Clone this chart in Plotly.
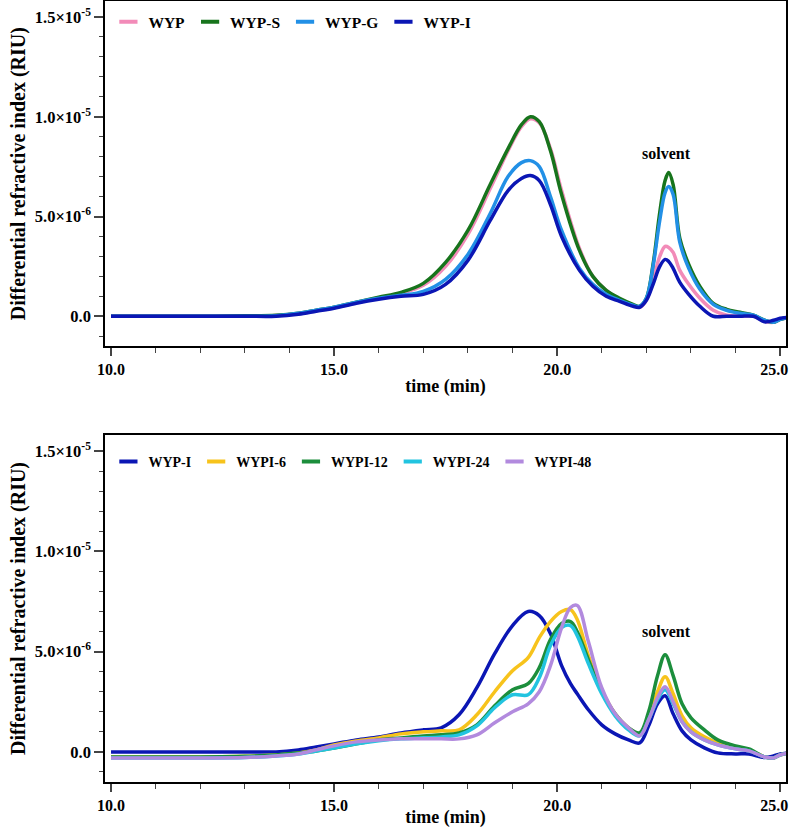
import plotly.graph_objects as go

# ---- top panel: WYP samples (values in 1e-6 RIU) ----
t_top = [10.0, 11.0, 12.0, 13.0, 13.7, 14.2, 14.6, 15.0, 15.5, 16.0, 16.5, 17.0, 17.5, 18.0,
         18.5, 18.9, 19.2, 19.4, 19.6, 19.85, 20.1, 20.5, 20.8, 21.1, 21.4, 21.7, 21.85, 22.0,
         22.15, 22.3, 22.42, 22.5, 22.6, 22.75, 22.95, 23.2, 23.5, 23.8, 24.1, 24.4, 24.65,
         24.85, 25.0, 25.2]
wyp = [0, 0, 0, 0.02, 0.04, 0.13, 0.28, 0.43, 0.68, 0.92, 1.15, 1.55, 2.5, 4.1,
       6.4, 8.3, 9.5, 9.9, 9.7, 8.4, 6.3, 3.4, 2.0, 1.3, 0.85, 0.55, 0.45, 0.8,
       1.8, 3.0, 3.5, 3.45, 3.2, 2.3, 1.6, 0.9, 0.3, 0.05, 0.0, 0.0, -0.25,
       -0.3, -0.15, -0.05]
wyp_s = [0, 0, 0, 0.02, 0.05, 0.15, 0.3, 0.45, 0.7, 0.95, 1.2, 1.65, 2.7, 4.3,
         6.6, 8.4, 9.6, 10.0, 9.75, 8.3, 6.1, 3.3, 2.0, 1.3, 0.9, 0.6, 0.5, 0.9,
         2.6, 5.2, 6.8, 7.2, 6.6, 3.9, 2.6, 1.5, 0.65, 0.35, 0.2, 0.05, -0.2,
         -0.3, -0.15, -0.05]
wyp_g = [0, 0, 0, 0.0, 0.03, 0.15, 0.3, 0.45, 0.7, 0.9, 1.05, 1.25, 1.85, 3.1,
         5.15, 7.0, 7.7, 7.8, 7.5, 6.0, 4.3, 2.4, 1.6, 1.1, 0.8, 0.55, 0.5, 0.9,
         2.5, 4.8, 6.2, 6.5, 6.1, 3.7, 2.4, 1.35, 0.6, 0.3, 0.15, 0.05, -0.2,
         -0.3, -0.15, -0.05]
wyp_i = [0, 0, 0, 0, 0.0, 0.1, 0.25, 0.4, 0.65, 0.85, 1.0, 1.1, 1.6, 2.8,
         4.8, 6.3, 6.9, 7.05, 6.8, 5.6, 4.0, 2.3, 1.5, 1.0, 0.75, 0.5, 0.45, 0.8,
         1.6, 2.5, 2.85, 2.75, 2.4, 1.7, 1.1, 0.5, 0.0, 0.0, 0.0, 0.0, -0.28,
         -0.2, -0.1, -0.05]

# ---- bottom panel: WYP-I hydrolysis series (values in 1e-6 RIU) ----
t_bot = [10.0, 11.0, 12.0, 13.0, 13.7, 14.2, 14.6, 15.0, 15.5, 16.0, 16.5, 17.0, 17.4, 17.8,
         18.2, 18.6, 19.0, 19.35, 19.6, 19.85, 20.1, 20.3, 20.45, 20.7, 21.0, 21.3, 21.6,
         21.85, 22.05, 22.25, 22.42, 22.6, 22.8, 23.0, 23.3, 23.6, 24.0, 24.3, 24.65, 24.85,
         25.0, 25.2]
wypi_0 = [0, 0, 0, 0, 0.0, 0.1, 0.25, 0.4, 0.6, 0.75, 0.95, 1.1, 1.2, 1.85,
          3.2, 4.9, 6.3, 7.0, 6.8, 5.9, 4.3, 3.4, 2.9, 2.1, 1.35, 0.9, 0.6,
          0.45, 1.3, 2.4, 2.8, 1.9, 1.05, 0.6, 0.2, -0.05, -0.1, -0.1, -0.28, -0.2,
          -0.1, -0.05]
wypi_6 = [-0.25, -0.25, -0.25, -0.22, -0.15, -0.05, 0.1, 0.35, 0.55, 0.7, 0.9, 1.0, 1.05, 1.1,
          1.85, 3.0, 4.05, 4.7, 5.7, 6.5, 7.0, 7.1, 6.6, 4.8, 3.1, 1.9, 1.2,
          0.9, 1.8, 3.0, 3.75, 2.9, 1.8, 1.2, 0.75, 0.45, 0.25, 0.1, -0.25, -0.3,
          -0.15, -0.05]
wypi_12 = [-0.25, -0.25, -0.25, -0.22, -0.15, -0.05, 0.05, 0.2, 0.4, 0.6, 0.7, 0.8, 0.85, 0.95,
           1.35, 2.3, 3.1, 3.4, 4.2, 5.6, 6.4, 6.5, 6.0, 4.6, 3.0, 1.9, 1.2,
           0.95, 2.0, 3.8, 4.85, 3.8, 2.4, 1.7, 1.1, 0.6, 0.3, 0.15, -0.25, -0.3,
           -0.15, -0.05]
wypi_24 = [-0.3, -0.3, -0.3, -0.28, -0.2, -0.1, 0.05, 0.2, 0.4, 0.55, 0.65, 0.7, 0.75, 0.85,
           1.3, 2.2, 2.85, 2.85, 3.7, 5.3, 6.2, 6.3, 5.8, 4.4, 2.9, 1.8, 1.1,
           0.8, 1.6, 2.6, 3.1, 2.4, 1.5, 1.0, 0.6, 0.35, 0.15, 0.05, -0.25, -0.3,
           -0.15, -0.05]
wypi_48 = [-0.3, -0.3, -0.3, -0.28, -0.2, -0.1, 0.1, 0.3, 0.5, 0.6, 0.65, 0.65, 0.65, 0.65,
           0.85, 1.45, 2.0, 2.4, 3.0, 4.3, 6.2, 7.2, 7.3, 5.5, 3.2, 1.9, 1.2,
           0.8, 1.6, 2.7, 3.25, 2.5, 1.5, 1.0, 0.6, 0.35, 0.15, 0.05, -0.25, -0.3,
           -0.15, -0.05]

top_series = [("WYP", wyp, "#f28bb8"), ("WYP-S", wyp_s, "#17741c"),
              ("WYP-G", wyp_g, "#2290e6"), ("WYP-I", wyp_i, "#0b16b4")]
bot_series = [("WYP-I", wypi_0, "#0b16b4"), ("WYPI-6", wypi_6, "#f7c31c"),
              ("WYPI-12", wypi_12, "#1c8e3c"), ("WYPI-24", wypi_24, "#22c4e0"),
              ("WYPI-48", wypi_48, "#b28ade")]

# axis ticks
x_ticks = [10, 15, 20, 25]
x_labels = ["10.0", "15.0", "20.0", "25.0\u00a0\u00a0\u00a0"]  # last label nudged left to stay on page
y_ticks = [0, 5, 10, 15]
y_labels = ["0.0", "5.0×10<sup>-6</sup>", "1.0×10<sup>-5</sup>", "1.5×10<sup>-5</sup>"]

FONT = "Liberation Serif"
fig = go.Figure()

for name, vals, col in top_series:
    fig.add_trace(go.Scatter(x=t_top, y=vals, mode="lines", line=dict(color=col, width=3.5),
                             line_shape="spline", showlegend=False, xaxis="x", yaxis="y"))
    # short dash legend sample
    fig.add_trace(go.Scatter(x=[None], y=[None], mode="markers", name=name,
                             marker=dict(symbol="line-ew", size=13, line=dict(color=col, width=4)),
                             legend="legend", xaxis="x", yaxis="y"))

for name, vals, col in bot_series:
    fig.add_trace(go.Scatter(x=t_bot, y=vals, mode="lines", line=dict(color=col, width=3.5),
                             line_shape="spline", showlegend=False, xaxis="x2", yaxis="y2"))
    fig.add_trace(go.Scatter(x=[None], y=[None], mode="markers", name=name,
                             marker=dict(symbol="line-ew", size=13, line=dict(color=col, width=4)),
                             legend="legend2", xaxis="x2", yaxis="y2"))

minor_x = [v for v in range(11, 26) if v % 5 != 0]
minor_y = [v for v in range(-1, 16) if v % 5 != 0]

xax = dict(range=[9.865, 25.13], tickmode="array", tickvals=x_ticks, ticktext=x_labels,
           ticks="outside", ticklen=8, tickwidth=1.5, showline=True, linewidth=1.5,
           linecolor="black", mirror=True, showgrid=False, zeroline=False, automargin=False,
           ticklabeloverflow="allow",
           minor=dict(tickmode="array", tickvals=minor_x, ticks="outside", ticklen=5, tickwidth=1.3),
           tickfont=dict(family=FONT, size=16, color="black", weight="bold"),
           title=dict(text="time (min)", standoff=2,
                      font=dict(family=FONT, size=18, color="black", weight="bold")))
yax = dict(range=[-1.5, 15.8], tickmode="array", tickvals=y_ticks, ticktext=y_labels,
           ticks="outside", ticklen=9, tickwidth=1.5, showline=True, linewidth=1.5,
           linecolor="black", mirror=True, showgrid=False, zeroline=False, automargin=False,
           ticklabeloverflow="allow",
           minor=dict(tickmode="array", tickvals=minor_y, ticks="outside", ticklen=4, tickwidth=1.3),
           tickfont=dict(family=FONT, size=16.5, color="black", weight="bold"),
           title=dict(text="Differential refractive index (RIU)", standoff=4,
                      font=dict(family=FONT, size=20, color="black", weight="bold")))

leg = dict(orientation="h", xanchor="left", yanchor="middle", bgcolor="rgba(0,0,0,0)",
           itemwidth=30, tracegroupgap=0)

fig.update_layout(
    width=789, height=828,
    margin=dict(l=105, r=3, t=1, b=46),
    paper_bgcolor="white", plot_bgcolor="white",
    xaxis=dict(xax, domain=[0, 1], anchor="y"),
    yaxis=dict(yax, domain=[0.558, 1], anchor="x"),
    xaxis2=dict(xax, domain=[0, 1], anchor="y2"),
    yaxis2=dict(yax, domain=[0, 0.4443], anchor="x2"),
    legend=dict(leg, x=0.005, y=0.973,
                font=dict(family=FONT, size=15.5, color="black", weight="bold")),
    legend2=dict(leg, x=0.005, y=0.41,
                 font=dict(family=FONT, size=14, color="black", weight="bold")),
    annotations=[
        dict(x=22.45, y=8.15, xref="x", yref="y", text="solvent", showarrow=False,
             font=dict(family=FONT, size=16, color="black", weight="bold")),
        dict(x=22.45, y=6.0, xref="x2", yref="y2", text="solvent", showarrow=False,
             font=dict(family=FONT, size=16, color="black", weight="bold")),
    ],
)

# page body margin would otherwise shift the figure by 8px
fig.write_html("out.html", config={"displayModeBar": False},
               post_script="document.body.style.margin='0';")
